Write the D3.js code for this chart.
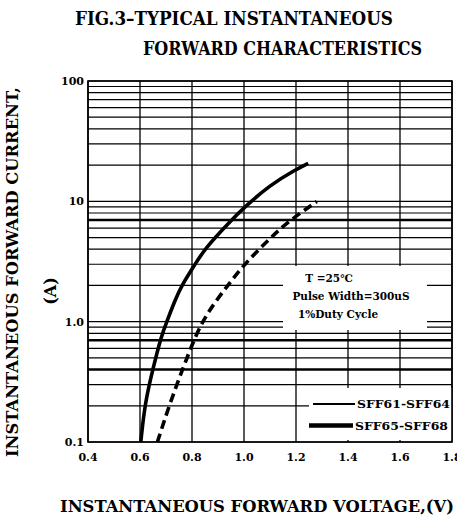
<!DOCTYPE html>
<html lang="en">
<head>
<meta charset="utf-8">
<title>Fig.3 Forward Characteristics</title>
<script src="https://cdn.jsdelivr.net/npm/d3@7/dist/d3.min.js"></script>
<style>
  body { margin: 0; background: #fff; }
  svg { display: block; }
  text { font-family: "DejaVu Serif", "Liberation Serif", serif; font-weight: bold; fill: #000; }
</style>
</head>
<body>
<div id="chart"></div>
<script>

// tick values / labels
var xTicks = [0.4, 0.6, 0.8, 1.0, 1.2, 1.4, 1.6, 1.8];
var xTickLabels = ["0.4", "0.6", "0.8", "1.0", "1.2", "1.4", "1.6", "1.8"];
var yTicks = [0.1, 1, 10, 100];
var yTickLabels = ["0.1", "1.0", "10", "100"];
var heavyGrid = [0.4, 0.7, 7];   // grid lines printed heavier in the original

// SFF61-SFF64 (solid)
var vSolid = [0.603, 0.619, 0.649, 0.681, 0.703, 0.735, 0.760, 0.812, 0.850, 0.946, 1.000, 1.100, 1.200, 1.247];
var iSolid = [0.10, 0.21, 0.40, 0.75, 1.0, 1.51, 2.0, 3.0, 4.06, 6.8, 8.87, 13.7, 18.4, 20.7];

// SFF65-SFF68 (dashed)
var vDashed = [0.667, 0.715, 0.767, 0.812, 0.857, 0.933, 1.004, 1.100, 1.170, 1.280];
var iDashed = [0.10, 0.21, 0.42, 0.75, 1.17, 1.95, 3.05, 4.92, 6.8, 9.97];

var legendNames = ["SFF61-SFF64", "SFF65-SFF68"];
var noteLines = ["T  =25\u2103", "Pulse Width=300uS", "1%Duty Cycle"];

var w = 457, h = 516;
var margin = {top: 81, right: 5, bottom: 74, left: 88};

var svg = d3.select("#chart").append("svg")
    .attr("width", w)
    .attr("height", h);

var x = d3.scaleLinear().domain([0.4, 1.8]).range([margin.left, w - margin.right]);
var y = d3.scaleLog().domain([0.1, 100]).range([h - margin.bottom, margin.top]);

// title
svg.append("text").attr("x", 75).attr("y", 25)
   .attr("font-size", 18).attr("textLength", 318).attr("lengthAdjust", "spacingAndGlyphs")
   .text("FIG.3\u2013TYPICAL  INSTANTANEOUS");
svg.append("text").attr("x", 143).attr("y", 55)
   .attr("font-size", 18).attr("textLength", 279).attr("lengthAdjust", "spacingAndGlyphs")
   .text("FORWARD  CHARACTERISTICS");

// grid
var grid = svg.append("g");
grid.selectAll("line.h")
    .data(y.ticks())
    .enter().append("line")
    .attr("class", "h")
    .attr("x1", x(0.4)).attr("x2", x(1.8))
    .attr("y1", function(d) { return y(d); })
    .attr("y2", function(d) { return y(d); })
    .attr("stroke", "#000")
    .attr("stroke-width", function(d) {
        var hv = heavyGrid.some(function(g) { return Math.abs(g - d) < 1e-9; });
        return hv ? 2.6 : 1.2;
    });

grid.selectAll("line.v")
    .data(xTicks)
    .enter().append("line")
    .attr("class", "v")
    .attr("x1", function(d) { return x(d); })
    .attr("x2", function(d) { return x(d); })
    .attr("y1", y(0.1)).attr("y2", y(100))
    .attr("stroke", "#000")
    .attr("stroke-width", 1.3);

// white patches behind note and legend
svg.append("rect").attr("x", 283).attr("y", 266).attr("width", 144).attr("height", 64).attr("fill", "#fff");
svg.append("rect").attr("x", 309).attr("y", 388).attr("width", 143).attr("height", 52).attr("fill", "#fff");

// frame
svg.append("rect")
   .attr("x", x(0.4)).attr("y", y(100))
   .attr("width", x(1.8) - x(0.4)).attr("height", y(0.1) - y(100))
   .attr("fill", "none").attr("stroke", "#000").attr("stroke-width", 1.6);

// tick labels
svg.selectAll("text.xt")
   .data(xTicks)
   .enter().append("text")
   .attr("class", "xt")
   .attr("x", function(d) { return x(d); })
   .attr("y", 461)
   .attr("text-anchor", "middle")
   .attr("font-size", 11)
   .text(function(d, i) { return xTickLabels[i]; });

svg.selectAll("text.yt")
   .data(yTicks)
   .enter().append("text")
   .attr("class", "yt")
   .attr("x", 84)
   .attr("y", function(d) { return y(d) + 4; })
   .attr("text-anchor", "end")
   .attr("font-size", 11)
   .text(function(d, i) { return yTickLabels[i]; });

// curves - B-spline through the read points, evens out reading noise
var line = d3.line()
    .x(function(d) { return x(d[0]); })
    .y(function(d) { return y(d[1]); })
    .curve(d3.curveBasis);

svg.append("path")
   .attr("d", line(d3.zip(vSolid, iSolid)))
   .attr("fill", "none").attr("stroke", "#000").attr("stroke-width", 3.6);

svg.append("path")
   .attr("d", line(d3.zip(vDashed, iDashed)))
   .attr("fill", "none").attr("stroke", "#000").attr("stroke-width", 3.6)
   .attr("stroke-dasharray", "9,5");

// conditions note
svg.selectAll("text.note")
   .data(noteLines)
   .enter().append("text")
   .attr("class", "note")
   .attr("x", function(d, i) { return [329, 351, 338][i]; })
   .attr("y", function(d, i) { return 282 + i * 18; })
   .attr("text-anchor", "middle")
   .attr("font-size", 10.5)
   .text(function(d) { return d; });

// legend
var leg = svg.append("g");
leg.append("line").attr("x1", 313).attr("x2", 355).attr("y1", 404).attr("y2", 404)
   .attr("stroke", "#000").attr("stroke-width", 2);
leg.append("line").attr("x1", 309).attr("x2", 353).attr("y1", 425.5).attr("y2", 425.5)
   .attr("stroke", "#000").attr("stroke-width", 4.5);
leg.selectAll("text")
   .data(legendNames)
   .enter().append("text")
   .attr("x", function(d, i) { return i === 0 ? 357 : 355; })
   .attr("y", function(d, i) { return 408 + i * 21.5; })
   .attr("font-size", 10.5)
   .attr("textLength", 93).attr("lengthAdjust", "spacingAndGlyphs")
   .text(function(d) { return d; });

// axis titles
svg.append("text")
   .attr("transform", "translate(18,272) rotate(-90)")
   .attr("text-anchor", "middle")
   .attr("font-size", 16)
   .attr("textLength", 370).attr("lengthAdjust", "spacingAndGlyphs")
   .text("INSTANTANEOUS  FORWARD  CURRENT,");
svg.append("text")
   .attr("transform", "translate(56,291) rotate(-90)")
   .attr("text-anchor", "middle")
   .attr("font-size", 16)
   .text("(A)");

svg.append("text")
   .attr("x", 60).attr("y", 512)
   .attr("font-size", 16)
   .attr("textLength", 394).attr("lengthAdjust", "spacingAndGlyphs")
   .text("INSTANTANEOUS  FORWARD  VOLTAGE,(V)");

</script>
</body>
</html>
